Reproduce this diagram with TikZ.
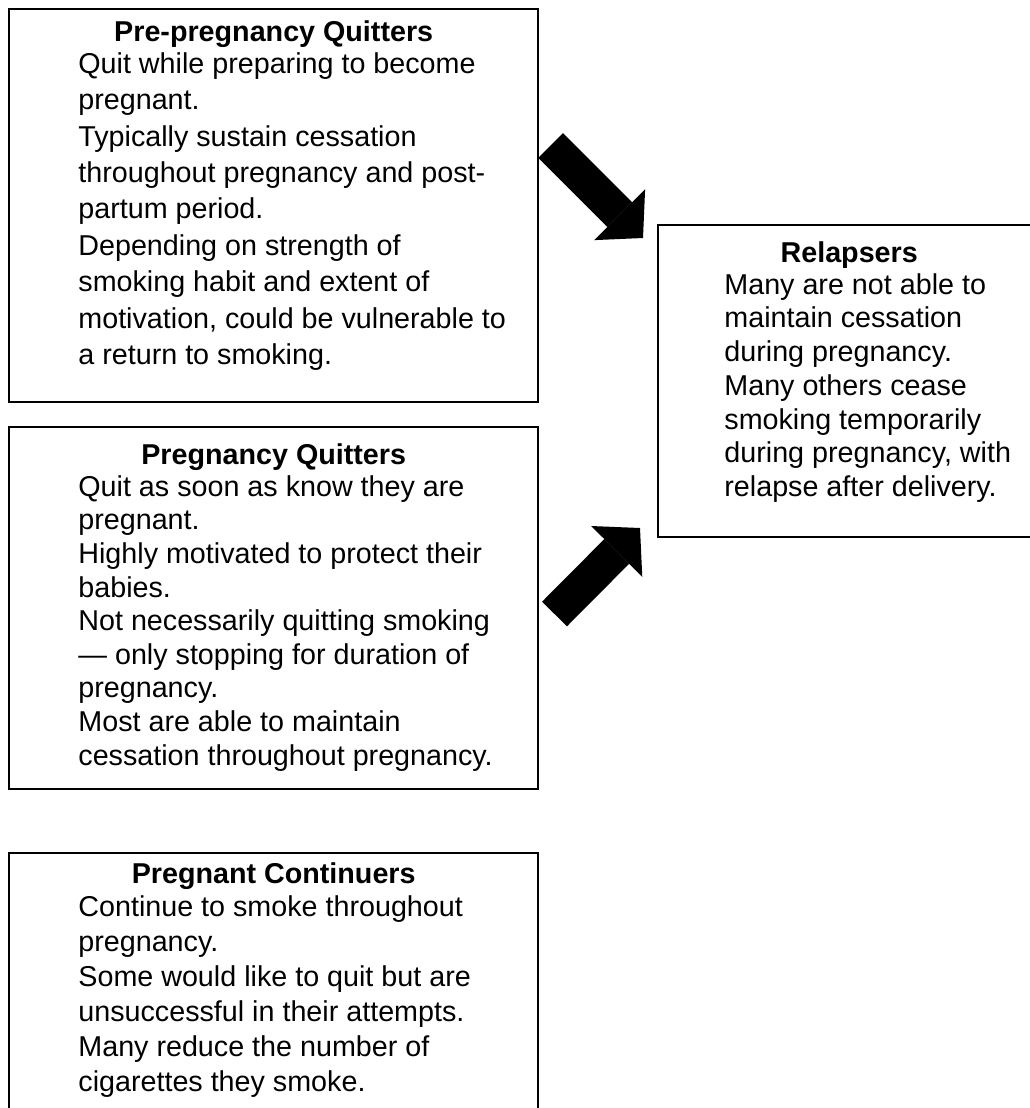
\documentclass[tikz,border=0pt]{standalone}
\usepackage{fontspec}
\setmainfont{Liberation Sans}
\usetikzlibrary{arrows.meta,positioning}

\tikzset{
  panel/.style={draw, line width=1.2pt, anchor=north west, inner sep=0pt},
  heading/.style={font=\fontsize{14.35}{16.8}\selectfont\bfseries, anchor=north, inner sep=0pt},
  bodytext/.style={align=left, anchor=north west, inner sep=0pt},
  fatarrow/.style={line width=17.5pt, -{Triangle[length=16.5pt, width=36pt, line width=0pt]}},
}

\begin{document}
\begin{tikzpicture}[x=0.5pt, y=-0.5pt]
    \useasboundingbox (0,0) rectangle (1029,1108);

    % boxes
    \node[panel, minimum width=264.5pt, minimum height=196.5pt] (pre) at (8,8) {};
    \node[panel, minimum width=264.5pt, minimum height=181pt] (preg) at (8,426) {};
    \node[panel, minimum width=264.5pt, minimum height=140pt] (cont) at (8,852) {};
    \node[panel, minimum width=191pt, minimum height=156pt] (rel) at (657,224) {};

    % Pre-pregnancy Quitters
    \node[heading, below=6pt of pre.north] (preT) {Pre-pregnancy Quitters};
    \node[bodytext, font=\fontsize{14.35}{18.2}\selectfont, below right=22pt and 35pt of pre.north west] (preB)
        {Quit while preparing to become\\
         pregnant.\\
         Typically sustain cessation\\
         throughout pregnancy and post-\\
         partum period.\\
         Depending on strength of\\
         smoking habit and extent of\\
         motivation, could be vulnerable to\\
         a return to smoking.};

    % Pregnancy Quitters
    \node[heading, below=8.5pt of preg.north] (pregT) {Pregnancy Quitters};
    \node[bodytext, font=\fontsize{14.35}{16.8}\selectfont, below right=24.5pt and 35pt of preg.north west] (pregB)
        {Quit as soon as know they are\\
         pregnant.\\
         Highly motivated to protect their\\
         babies.\\
         Not necessarily quitting smoking\\
         --- only stopping for duration of\\
         pregnancy.\\
         Most are able to maintain\\
         cessation throughout pregnancy.};

    % Pregnant Continuers
    \node[heading, below=5pt of cont.north] (contT) {Pregnant Continuers};
    \node[bodytext, font=\fontsize{14.35}{17.5}\selectfont, below right=21.5pt and 35pt of cont.north west] (contB)
        {Continue to smoke throughout\\
         pregnancy.\\
         Some would like to quit but are\\
         unsuccessful in their attempts.\\
         Many reduce the number of\\
         cigarettes they smoke.};

    % Relapsers
    \node[heading, below=8.5pt of rel.north] (relT) {Relapsers};
    \node[bodytext, font=\fontsize{14.35}{16.85}\selectfont, below right=24.5pt and 33.5pt of rel.north west] (relB)
        {Many are not able to\\
         maintain cessation\\
         during pregnancy.\\
         Many others cease\\
         smoking temporarily\\
         during pregnancy, with\\
         relapse after delivery.};

    % block arrows
    \coordinate (preOut) at (550.5,145.5);
    \coordinate (relIn1) at (643,238);
    \coordinate (pregOut) at (554.5,614);
    \coordinate (relIn2) at (640,528);
    \draw[fatarrow] (preOut) -- (relIn1);
    \draw[fatarrow] (pregOut) -- (relIn2);
\end{tikzpicture}
\end{document}
